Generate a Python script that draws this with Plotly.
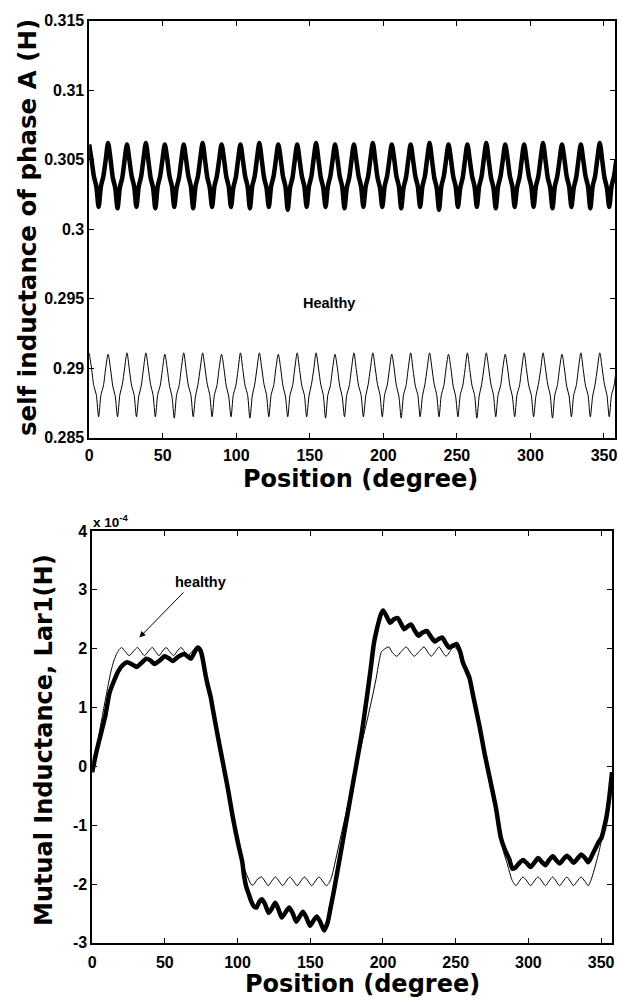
import plotly.graph_objects as go

# ---------------- data: top panel (self inductance of phase A, H) ----------------
top_step_deg = 360 / 224          # sampling step of the top traces (8 samples / slot period)
top_pos = [round(i * top_step_deg, 4) for i in range(224)]

self_faulty = [
    0.3061, 0.3050, 0.3038, 0.3031, 0.3016, 0.3031, 0.3038, 0.3050,
    0.3062, 0.3051, 0.3037, 0.3030, 0.3015, 0.3030, 0.3037, 0.3050,
    0.3061, 0.3050, 0.3038, 0.3031, 0.3016, 0.3031, 0.3038, 0.3051,
    0.3062, 0.3050, 0.3037, 0.3030, 0.3015, 0.3031, 0.3038, 0.3050,
    0.3061, 0.3051, 0.3038, 0.3031, 0.3016, 0.3030, 0.3037, 0.3050,
    0.3061, 0.3050, 0.3038, 0.3031, 0.3015, 0.3031, 0.3038, 0.3051,
    0.3062, 0.3050, 0.3037, 0.3030, 0.3016, 0.3031, 0.3038, 0.3050,
    0.3061, 0.3051, 0.3038, 0.3031, 0.3016, 0.3030, 0.3037, 0.3050,
    0.3061, 0.3050, 0.3038, 0.3031, 0.3015, 0.3031, 0.3038, 0.3051,
    0.3062, 0.3050, 0.3037, 0.3030, 0.3016, 0.3031, 0.3038, 0.3050,
    0.3061, 0.3051, 0.3038, 0.3031, 0.3014, 0.3030, 0.3037, 0.3050,
    0.3061, 0.3050, 0.3038, 0.3031, 0.3016, 0.3031, 0.3038, 0.3051,
    0.3062, 0.3050, 0.3037, 0.3030, 0.3016, 0.3031, 0.3038, 0.3050,
    0.3061, 0.3051, 0.3038, 0.3031, 0.3015, 0.3030, 0.3037, 0.3050,
    0.3061, 0.3050, 0.3038, 0.3031, 0.3016, 0.3031, 0.3038, 0.3051,
    0.3062, 0.3050, 0.3037, 0.3030, 0.3016, 0.3031, 0.3038, 0.3050,
    0.3061, 0.3051, 0.3038, 0.3031, 0.3015, 0.3030, 0.3037, 0.3050,
    0.3061, 0.3050, 0.3038, 0.3031, 0.3016, 0.3031, 0.3038, 0.3051,
    0.3062, 0.3050, 0.3037, 0.3030, 0.3014, 0.3031, 0.3038, 0.3050,
    0.3061, 0.3051, 0.3038, 0.3031, 0.3016, 0.3030, 0.3037, 0.3050,
    0.3061, 0.3050, 0.3038, 0.3031, 0.3016, 0.3031, 0.3038, 0.3051,
    0.3062, 0.3050, 0.3037, 0.3030, 0.3015, 0.3031, 0.3038, 0.3050,
    0.3061, 0.3051, 0.3038, 0.3031, 0.3016, 0.3030, 0.3037, 0.3050,
    0.3061, 0.3050, 0.3038, 0.3031, 0.3016, 0.3031, 0.3038, 0.3051,
    0.3062, 0.3050, 0.3037, 0.3030, 0.3015, 0.3031, 0.3038, 0.3050,
    0.3061, 0.3051, 0.3038, 0.3031, 0.3016, 0.3030, 0.3037, 0.3050,
    0.3061, 0.3050, 0.3038, 0.3031, 0.3015, 0.3031, 0.3038, 0.3051,
    0.3062, 0.3050, 0.3037, 0.3030, 0.3016, 0.3031, 0.3038, 0.3050,
]

self_healthy = [
    0.2911, 0.2900, 0.2887, 0.2881, 0.2865, 0.2881, 0.2887, 0.2900,
    0.2910, 0.2900, 0.2887, 0.2880, 0.2865, 0.2881, 0.2888, 0.2900,
    0.2911, 0.2899, 0.2887, 0.2881, 0.2865, 0.2880, 0.2887, 0.2900,
    0.2911, 0.2900, 0.2888, 0.2881, 0.2865, 0.2881, 0.2887, 0.2899,
    0.2910, 0.2900, 0.2887, 0.2880, 0.2864, 0.2881, 0.2887, 0.2900,
    0.2911, 0.2899, 0.2887, 0.2881, 0.2865, 0.2880, 0.2888, 0.2900,
    0.2911, 0.2900, 0.2888, 0.2881, 0.2865, 0.2881, 0.2887, 0.2900,
    0.2910, 0.2900, 0.2887, 0.2880, 0.2865, 0.2881, 0.2887, 0.2899,
    0.2911, 0.2899, 0.2887, 0.2881, 0.2864, 0.2880, 0.2888, 0.2900,
    0.2911, 0.2900, 0.2888, 0.2881, 0.2865, 0.2881, 0.2887, 0.2900,
    0.2910, 0.2900, 0.2887, 0.2880, 0.2865, 0.2881, 0.2887, 0.2900,
    0.2911, 0.2899, 0.2887, 0.2881, 0.2865, 0.2880, 0.2888, 0.2899,
    0.2911, 0.2900, 0.2888, 0.2881, 0.2864, 0.2881, 0.2887, 0.2900,
    0.2910, 0.2900, 0.2887, 0.2880, 0.2865, 0.2881, 0.2887, 0.2900,
    0.2911, 0.2899, 0.2887, 0.2881, 0.2865, 0.2880, 0.2888, 0.2900,
    0.2911, 0.2900, 0.2888, 0.2881, 0.2865, 0.2881, 0.2887, 0.2899,
    0.2910, 0.2900, 0.2887, 0.2880, 0.2864, 0.2881, 0.2887, 0.2900,
    0.2911, 0.2899, 0.2887, 0.2881, 0.2865, 0.2880, 0.2888, 0.2900,
    0.2911, 0.2900, 0.2888, 0.2881, 0.2865, 0.2881, 0.2887, 0.2900,
    0.2910, 0.2900, 0.2887, 0.2880, 0.2865, 0.2881, 0.2887, 0.2899,
    0.2911, 0.2899, 0.2887, 0.2881, 0.2864, 0.2880, 0.2888, 0.2900,
    0.2911, 0.2900, 0.2888, 0.2881, 0.2865, 0.2881, 0.2887, 0.2900,
    0.2910, 0.2900, 0.2887, 0.2880, 0.2865, 0.2881, 0.2887, 0.2900,
    0.2911, 0.2899, 0.2887, 0.2881, 0.2865, 0.2880, 0.2888, 0.2899,
    0.2911, 0.2900, 0.2888, 0.2881, 0.2864, 0.2881, 0.2887, 0.2900,
    0.2910, 0.2900, 0.2887, 0.2880, 0.2865, 0.2881, 0.2887, 0.2900,
    0.2911, 0.2899, 0.2887, 0.2881, 0.2865, 0.2880, 0.2888, 0.2900,
    0.2911, 0.2900, 0.2888, 0.2881, 0.2865, 0.2881, 0.2887, 0.2900,
]

top_yticks = [0.285, 0.29, 0.295, 0.3, 0.305, 0.31, 0.315]
top_yticktext = ["0.285", "0.29", "0.295", "0.3", "0.305", "0.31", "0.315"]

# ---------------- data: bottom panel (mutual inductance Lar1, x 1e-4 H) ----------------
mut_faulty_pos = [
    0, 3, 6, 9, 12, 15, 18, 21, 24, 27, 30.5, 34, 37.3, 40, 43, 46.5, 49.8, 52.5,
    55.4, 59, 63.4, 65.5, 67.9, 70, 72.5, 74.5, 76, 78, 79.5, 81.5, 83, 86.5, 90.4,
    93.5, 96.4, 99, 101, 103.2, 104.4, 106, 107.8, 109.5, 111.2, 113, 115, 116.8,
    119, 121.4, 123.5, 125.9, 128, 130.4, 133, 135.5, 138, 140.3, 142.5, 145, 147.5,
    149.8, 152, 154.5, 157, 159.5, 162, 164, 166, 170, 175, 180, 185, 189, 191.5,
    193.7, 195.5, 197.2, 198.8, 200.1, 202.5, 205, 207.5, 210.1, 212.5, 214.6, 217,
    219.2, 222, 224.4, 227, 230.1, 233, 235.7, 238, 240.7, 243, 245.4, 248, 250.5,
    253, 255, 257.5, 259.5, 262, 266.3, 270, 273, 277.7, 281, 284, 286.7, 289, 291,
    293.5, 296.3, 299, 301.5, 304, 306.7, 309, 311.7, 314, 316.7, 319, 321.4, 324,
    326.4, 329, 331, 334, 336.2, 339, 341.2, 343.6, 345.8, 348, 350.3, 352, 353.6,
    355.5, 357.5,
]
mut_faulty = [
    -0.10, 0.25, 0.55, 0.85, 1.25, 1.45, 1.62, 1.72, 1.77, 1.74, 1.69, 1.76, 1.83, 1.80,
    1.74, 1.80, 1.87, 1.84, 1.79, 1.86, 1.91, 1.87, 1.83, 1.92, 2.02, 1.97, 1.83, 1.55,
    1.38, 1.18, 0.97, 0.50, 0.00, -0.40, -0.82, -1.15, -1.38, -1.62, -1.85, -2.05,
    -2.18, -2.30, -2.38, -2.40, -2.30, -2.26, -2.35, -2.49, -2.42, -2.32, -2.42, -2.57,
    -2.48, -2.40, -2.50, -2.64, -2.56, -2.47, -2.58, -2.71, -2.63, -2.55, -2.65, -2.79,
    -2.65, -2.40, -2.15, -1.60, -0.90, -0.20, 0.50, 1.19, 1.65, 2.08, 2.30, 2.47, 2.60,
    2.65, 2.55, 2.44, 2.50, 2.52, 2.42, 2.33, 2.38, 2.41, 2.30, 2.22, 2.27, 2.30, 2.20,
    2.12, 2.16, 2.19, 2.10, 2.02, 2.05, 2.08, 1.95, 1.76, 1.62, 1.50, 1.20, 0.69, 0.20,
    -0.15, -0.71, -1.21, -1.43, -1.57, -1.74, -1.72, -1.65, -1.59, -1.65, -1.71, -1.64,
    -1.56, -1.62, -1.68, -1.60, -1.53, -1.59, -1.65, -1.58, -1.52, -1.58, -1.64, -1.56,
    -1.50, -1.56, -1.63, -1.52, -1.41, -1.30, -1.21, -1.05, -0.87, -0.55, -0.10,
]

mut_healthy_pos = [
    0, 3, 6, 9, 11, 13, 15, 17, 18.5, 20.3, 22.8, 25.5, 28.5, 31.2, 33.5, 36, 38.8,
    41.4, 43.6, 46, 48.5, 50.9, 53.3, 56, 58.6, 61.1, 63.5, 66, 68.5, 71, 73, 75,
    76.5, 78, 79.5, 81.5, 83, 86.5, 90.4, 93.5, 96.4, 99, 101, 103.2, 105, 106.6,
    108.5, 110, 111.5, 113.5, 116.4, 118.8, 121, 123.5, 126, 128.5, 131, 133.5, 136,
    138.5, 141, 143.5, 146, 148.5, 151, 153.5, 156, 158.5, 161, 163, 165, 170, 175,
    180, 185, 190, 193.7, 195.5, 197, 199, 201.5, 204, 206.5, 209.5, 212.5, 216,
    218.8, 221.5, 224.8, 228.2, 230.8, 233.2, 236, 238.6, 241, 243.4, 246, 248.2,
    250.5, 253, 255, 257.5, 259.5, 262, 266.3, 270, 273, 277.7, 281, 283.3, 285,
    286.7, 288.5, 290, 291.4, 293.8, 296.3, 299, 301.5, 304, 306.7, 309.2, 311.7,
    314.2, 316.7, 319, 321.4, 324, 326.4, 328.7, 331, 333.6, 336.2, 338.7, 341.2,
    343.5, 345.8, 347.5, 349.2, 351, 352.6, 354.5, 356, 357.5,
]
mut_healthy = [
    -0.05, 0.30, 0.72, 1.12, 1.38, 1.62, 1.80, 1.92, 1.98, 2.02, 1.95, 1.88, 1.96, 2.02,
    1.95, 1.88, 1.96, 2.02, 1.95, 1.88, 1.96, 2.02, 1.95, 1.88, 1.96, 2.02, 1.95, 1.88,
    1.95, 2.00, 1.98, 1.88, 1.70, 1.50, 1.35, 1.15, 0.95, 0.48, -0.02, -0.42, -0.84,
    -1.17, -1.40, -1.62, -1.76, -1.86, -1.97, -2.02, -2.00, -1.92, -1.88, -1.95, -2.03,
    -1.95, -1.88, -1.95, -2.03, -1.95, -1.88, -1.95, -2.03, -1.95, -1.88, -1.95, -2.03,
    -1.95, -1.88, -1.95, -2.03, -1.98, -1.85, -1.30, -0.75, -0.20, 0.35, 0.88, 1.30,
    1.52, 1.74, 1.95, 2.00, 2.03, 1.93, 1.87, 1.95, 2.03, 1.94, 1.87, 1.95, 2.03, 1.94,
    1.87, 1.95, 2.03, 1.94, 1.87, 1.95, 2.03, 2.00, 1.90, 1.74, 1.60, 1.48, 1.17, 0.66,
    0.18, -0.17, -0.73, -1.22, -1.49, -1.62, -1.77, -1.92, -1.99, -2.03, -1.95, -1.88,
    -1.95, -2.03, -1.95, -1.88, -1.95, -2.03, -1.95, -1.88, -1.95, -2.03, -1.95, -1.88,
    -1.95, -2.03, -1.95, -1.88, -1.95, -2.03, -1.90, -1.71, -1.55, -1.38, -1.15, -0.93,
    -0.65, -0.40, -0.10,
]

x_ticks = [0, 50, 100, 150, 200, 250, 300, 350]
x_ticktext = ["0", "50", "100", "150", "200", "250", "300", "350"]
bottom_yticks = [-3, -2, -1, 0, 1, 2, 3, 4]
bottom_yticktext = ["-3", "-2", "-1", "0", "1", "2", "3", "4"]

# ---------------- figure ----------------
W, H = 618, 1001
TICKFONT = dict(family="Liberation Sans, Arial, sans-serif", size=16, color="black", weight="bold")
TITLEFONT = dict(family="DejaVu Sans, sans-serif", size=24, color="black", weight="bold")

fig = go.Figure()
fig.add_trace(go.Scatter(x=top_pos, y=self_faulty, mode="lines", xaxis="x", yaxis="y",
                         line=dict(color="black", width=4.5, shape="spline", smoothing=0.8),
                         showlegend=False, hoverinfo="skip"))
fig.add_trace(go.Scatter(x=top_pos, y=self_healthy, mode="lines", xaxis="x", yaxis="y",
                         line=dict(color="black", width=1, shape="spline", smoothing=0.8),
                         showlegend=False, hoverinfo="skip"))
fig.add_trace(go.Scatter(x=mut_healthy_pos, y=mut_healthy, mode="lines", xaxis="x2", yaxis="y2",
                         line=dict(color="black", width=1, shape="spline", smoothing=0.6),
                         showlegend=False, hoverinfo="skip"))
fig.add_trace(go.Scatter(x=mut_faulty_pos, y=mut_faulty, mode="lines", xaxis="x2", yaxis="y2",
                         line=dict(color="black", width=4.5, shape="spline", smoothing=0.6),
                         showlegend=False, hoverinfo="skip"))

axis_common = dict(showline=True, linecolor="black", linewidth=1.5, mirror="ticks",
                   ticks="inside", ticklen=5, tickwidth=1, tickcolor="black",
                   showgrid=False, zeroline=False, tickfont=TICKFONT)

def px_x(p):
    return p / W

def px_y(p):
    return 1 - p / H

fig.update_layout(
    width=W, height=H, margin=dict(l=0, r=0, t=0, b=0),
    paper_bgcolor="white", plot_bgcolor="white",
    xaxis=dict(domain=[px_x(86), px_x(617)], range=[0, 357.5], tickvals=x_ticks,
               ticktext=x_ticktext, ticklabelstandoff=2, anchor="y", **axis_common),
    yaxis=dict(domain=[px_y(437), px_y(13)], range=[0.285, 0.315], tickvals=top_yticks,
               ticktext=top_yticktext, anchor="x", **axis_common),
    xaxis2=dict(domain=[px_x(89), px_x(614)], range=[0, 357.5], tickvals=x_ticks,
                ticktext=x_ticktext, ticklabelstandoff=4, anchor="y2", **axis_common),
    yaxis2=dict(domain=[px_y(951), px_y(532)], range=[-3, 4], tickvals=bottom_yticks,
                ticktext=bottom_yticktext, anchor="x2", **axis_common),
)

ann = []
# axis titles
ann.append(dict(text="Position (degree)", x=px_x(360), y=px_y(479), xref="paper", yref="paper",
                showarrow=False, font=TITLEFONT, xanchor="center", yanchor="middle"))
ann.append(dict(text="Position (degree)", x=px_x(362), y=px_y(993), xref="paper", yref="paper",
                showarrow=False, font=TITLEFONT, xanchor="center", yanchor="middle"))
ann.append(dict(text="self inductance of phase A (H)", x=px_x(23), y=px_y(223), xref="paper",
                yref="paper", showarrow=False, font=dict(TITLEFONT, size=24.5), textangle=-90,
                xanchor="center", yanchor="middle"))
ann.append(dict(text="Mutual Inductance, Lar1(H)", x=px_x(41), y=px_y(745), xref="paper",
                yref="paper", showarrow=False, font=TITLEFONT, textangle=-90,
                xanchor="center", yanchor="middle"))
# exponent label
ann.append(dict(text="x 10<sup>-4</sup>", x=px_x(88), y=px_y(533), xref="paper", yref="paper",
                showarrow=False, font=dict(TICKFONT, size=13.5), xanchor="left", yanchor="bottom"))
# in-plot labels
ann.append(dict(text="Healthy", x=163, y=0.2947, xref="x", yref="y", showarrow=False,
                font=dict(TICKFONT, size=14.5), xanchor="center", yanchor="middle"))
ann.append(dict(text="healthy", x=74.5, y=3.13, xref="x2", yref="y2", showarrow=False,
                font=dict(TICKFONT, size=14.5), xanchor="center", yanchor="middle"))
ann.append(dict(text="", x=32.5, y=2.19, ax=63.8, ay=2.98, xref="x2", yref="y2",
                axref="x2", ayref="y2", showarrow=True, arrowhead=2, arrowsize=1.2,
                arrowwidth=1, arrowcolor="black"))
fig.update_layout(annotations=ann)

fig.write_html("out.html")
